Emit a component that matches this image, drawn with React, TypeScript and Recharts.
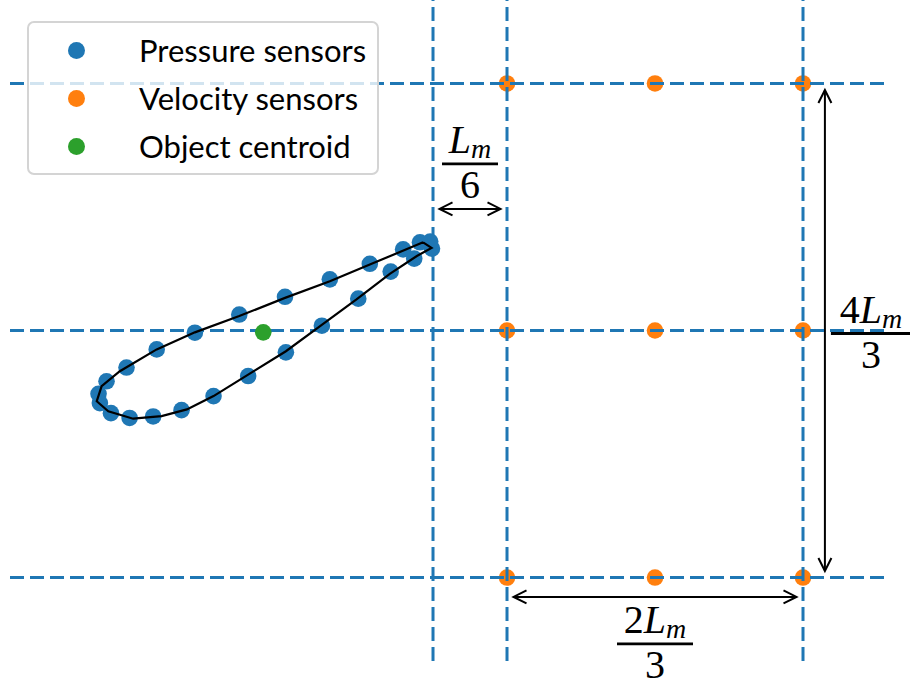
import { ScatterChart, Scatter, XAxis, YAxis, ReferenceLine, Legend } from "recharts";

// Sensor layout around a pitching airfoil. Coordinates are in units of L_m,
// with the origin on the first column / middle row of the velocity probes.

// Pressure taps on the airfoil surface, trailing edge -> upper -> leading edge -> lower.
const pressureX = [
  -0.169, -0.173, -0.196, -0.234, -0.309, -0.399, -0.5, -0.603, -0.703, -0.789,
  -0.857, -0.902, -0.92, -0.917, -0.892, -0.85, -0.797, -0.733, -0.661, -0.583,
  -0.498, -0.417, -0.335, -0.262, -0.209,
];
const pressureY = [
  0.221, 0.24, 0.238, 0.219, 0.18, 0.138, 0.091, 0.043, -0.006, -0.051,
  -0.1, -0.137, -0.171, -0.196, -0.223, -0.236, -0.232, -0.215, -0.177, -0.123,
  -0.059, 0.013, 0.086, 0.159, 0.194,
];

// Airfoil contour (closed).
const outlineX = [
  -0.189, -0.309, -0.399, -0.5, -0.603, -0.703, -0.789, -0.872, -0.913, -0.924,
  -0.898, -0.842, -0.778, -0.721, -0.661, -0.583, -0.498, -0.421, -0.339, -0.264,
  -0.203, -0.17, -0.189,
];
const outlineY = [
  0.238, 0.178, 0.133, 0.088, 0.039, -0.005, -0.051, -0.11, -0.15, -0.191,
  -0.218, -0.238, -0.231, -0.213, -0.177, -0.119, -0.056, 0.012, 0.084, 0.153,
  0.201, 0.223, 0.238,
];

const centroidX = [-0.549];
const centroidY = [-0.005];

// Velocity probe grid (columns x rows).
const velocityCols = [0, 1 / 3, 2 / 3];
const velocityRows = [2 / 3, 0, -2 / 3];

// Dashed guide lines.
const guideX = [-1 / 6, 0, 2 / 3];
const guideY = [2 / 3, 0, -2 / 3];

const seriesNames = ["Pressure sensors", "Velocity sensors", "Object centroid"];

// Dimension arrows: start/end points plus the fraction drawn next to them.
const arrows = [
  { from: [-1 / 6, 0.328], to: [0, 0.328], coef: "", den: "6" },
  { from: [0.716, 2 / 3], to: [0.716, -2 / 3], coef: "4", den: "3" },
  { from: [0, -0.719], to: [2 / 3, -0.719], coef: "2", den: "3" },
];

const X_DOMAIN = [-1.1194, 0.8581];
const Y_DOMAIN = [-0.892, 0.892];

const BLUE = "#1f77b4";
const ORANGE = "#ff7f0e";
const GREEN = "#2ca02c";

// label placement relative to the arrow midpoint (px), and fraction bar width
const LABEL_LAYOUT = [
  { dx: 0, dy: -45, bar: 56 },
  { dx: 46, dy: 3, bar: 80 },
  { dx: 0, dy: 47, bar: 76 },
];

const pressure = pressureX.map((x, i) => ({ x, y: pressureY[i] }));
const outline = outlineX.map((x, i) => ({ x, y: outlineY[i] }));
const centroid = centroidX.map((x, i) => ({ x, y: centroidY[i] }));
const velocity = velocityRows.flatMap((y) => velocityCols.map((x) => ({ x, y })));

const Dot = (color: string) => (p: any) =>
  <circle cx={p.cx} cy={p.cy} r={8.3} fill={color} />;
const NoDot = () => <g />;

function Fraction({ cx, barY, coef, den, bar }: any) {
  return (
    <g fontFamily="'Liberation Serif', 'DejaVu Serif', serif" fill="#000">
      <text x={cx} y={barY - 11} textAnchor="middle" fontSize={40}>
        {coef ? <tspan>{coef}</tspan> : null}
        <tspan fontStyle="italic">L</tspan>
        <tspan fontStyle="italic" fontSize={28} dy={5}>m</tspan>
      </text>
      <line x1={cx - bar / 2} x2={cx + bar / 2} y1={barY} y2={barY} stroke="#000" strokeWidth={2.8} />
      <text x={cx} y={barY + 34} textAnchor="middle" fontSize={40}>
        {den}
      </text>
    </g>
  );
}

function DoubleArrow(p: any) {
  const { x1, y1, x2, y2, label, layout } = p;
  const len = Math.hypot(x2 - x1, y2 - y1);
  const ux = (x2 - x1) / len;
  const uy = (y2 - y1) / len;
  const shrink = 6.5;
  const ax = x1 + ux * shrink;
  const ay = y1 + uy * shrink;
  const bx = x2 - ux * shrink;
  const by = y2 - uy * shrink;
  const hl = 13;
  const hw = 6.5;
  const head = (tx: number, ty: number, dx: number, dy: number) =>
    `M${tx - dx * hl - dy * hw},${ty - dy * hl + dx * hw} L${tx},${ty} L${tx - dx * hl + dy * hw},${ty - dy * hl - dx * hw}`;
  const mx = (x1 + x2) / 2;
  const my = (y1 + y2) / 2;
  return (
    <g>
      <line x1={ax} y1={ay} x2={bx} y2={by} stroke="#000" strokeWidth={2} />
      <path d={head(ax, ay, -ux, -uy)} fill="none" stroke="#000" strokeWidth={2} />
      <path d={head(bx, by, ux, uy)} fill="none" stroke="#000" strokeWidth={2} />
      <Fraction cx={mx + layout.dx} barY={my + layout.dy} coef={label.coef} den={label.den} bar={layout.bar} />
    </g>
  );
}

function LegendBox({ payload }: any) {
  // only the named sensor series, in the reference order
  const items = (payload || [])
    .filter((it: any) => seriesNames.includes(it.value))
    .sort((a: any, b: any) => seriesNames.indexOf(a.value) - seriesNames.indexOf(b.value));
  return (
    <div
      style={{
        boxSizing: "border-box",
        width: 352,
        height: 154,
        background: "rgba(255,255,255,0.8)",
        border: "2px solid #d4d4d4",
        borderRadius: 7,
        position: "relative",
        fontFamily: "Lato, 'Liberation Sans', sans-serif",
        fontSize: 31,
        color: "#000",
      }}
    >
      {items.map((it: any, i: number) => (
        <div key={it.value} style={{ position: "absolute", left: 0, top: 3 + i * 48, height: 48, width: "100%" }}>
          <span
            style={{
              position: "absolute",
              left: 39,
              top: 15.5,
              width: 17,
              height: 17,
              borderRadius: "50%",
              background: it.color,
            }}
          />
          <span style={{ position: "absolute", left: 110, top: 4, lineHeight: "40px", whiteSpace: "nowrap" }}>
            {it.value}
          </span>
        </div>
      ))}
    </div>
  );
}

export default function App() {
  return (
    <div style={{ position: "absolute", left: 0, top: 0, background: "#fff" }}>
      <ScatterChart width={910} height={690} margin={{ top: 0, right: 22, bottom: 29, left: 10 }}>
        <XAxis type="number" dataKey="x" domain={X_DOMAIN} allowDataOverflow hide />
        <YAxis type="number" dataKey="y" domain={Y_DOMAIN} allowDataOverflow hide />
        <Legend
          content={(props: any) => <LegendBox payload={props.payload} />}
          layout="vertical"
          verticalAlign="middle"
          align="center"
          wrapperStyle={{ left: 27, top: 21, width: 352 }}
        />
        <Scatter name="Velocity sensors" data={velocity} fill={ORANGE} shape={Dot(ORANGE)} isAnimationActive={false} />
        {guideX.map((gx) => (
          <Scatter
            key={`gx${gx}`}
            data={[{ x: gx, y: Y_DOMAIN[0] }, { x: gx, y: Y_DOMAIN[1] }]}
            fill={BLUE}
            line={{ stroke: BLUE, strokeWidth: 3, strokeDasharray: "14 6" }}
            shape={NoDot}
            legendType="none"
            isAnimationActive={false}
          />
        ))}
        {guideY.map((gy) => (
          <Scatter
            key={`gy${gy}`}
            data={[{ x: X_DOMAIN[0], y: gy }, { x: X_DOMAIN[1], y: gy }]}
            fill={BLUE}
            line={{ stroke: BLUE, strokeWidth: 3, strokeDasharray: "14 6" }}
            shape={NoDot}
            legendType="none"
            isAnimationActive={false}
          />
        ))}
        <Scatter name="Pressure sensors" data={pressure} fill={BLUE} shape={Dot(BLUE)} isAnimationActive={false} />
        <Scatter name="Object centroid" data={centroid} fill={GREEN} shape={Dot(GREEN)} isAnimationActive={false} />
        <Scatter
          data={outline}
          fill="#000"
          line={{ stroke: "#000", strokeWidth: 2.2 }}
          shape={NoDot}
          legendType="none"
          isAnimationActive={false}
        />
        {arrows.map((a, i) => (
          <ReferenceLine
            key={i}
            segment={[{ x: a.from[0], y: a.from[1] }, { x: a.to[0], y: a.to[1] }]}
            ifOverflow="visible"
            shape={(p: any) => <DoubleArrow {...p} label={a} layout={LABEL_LAYOUT[i]} />}
          />
        ))}
      </ScatterChart>
    </div>
  );
}
